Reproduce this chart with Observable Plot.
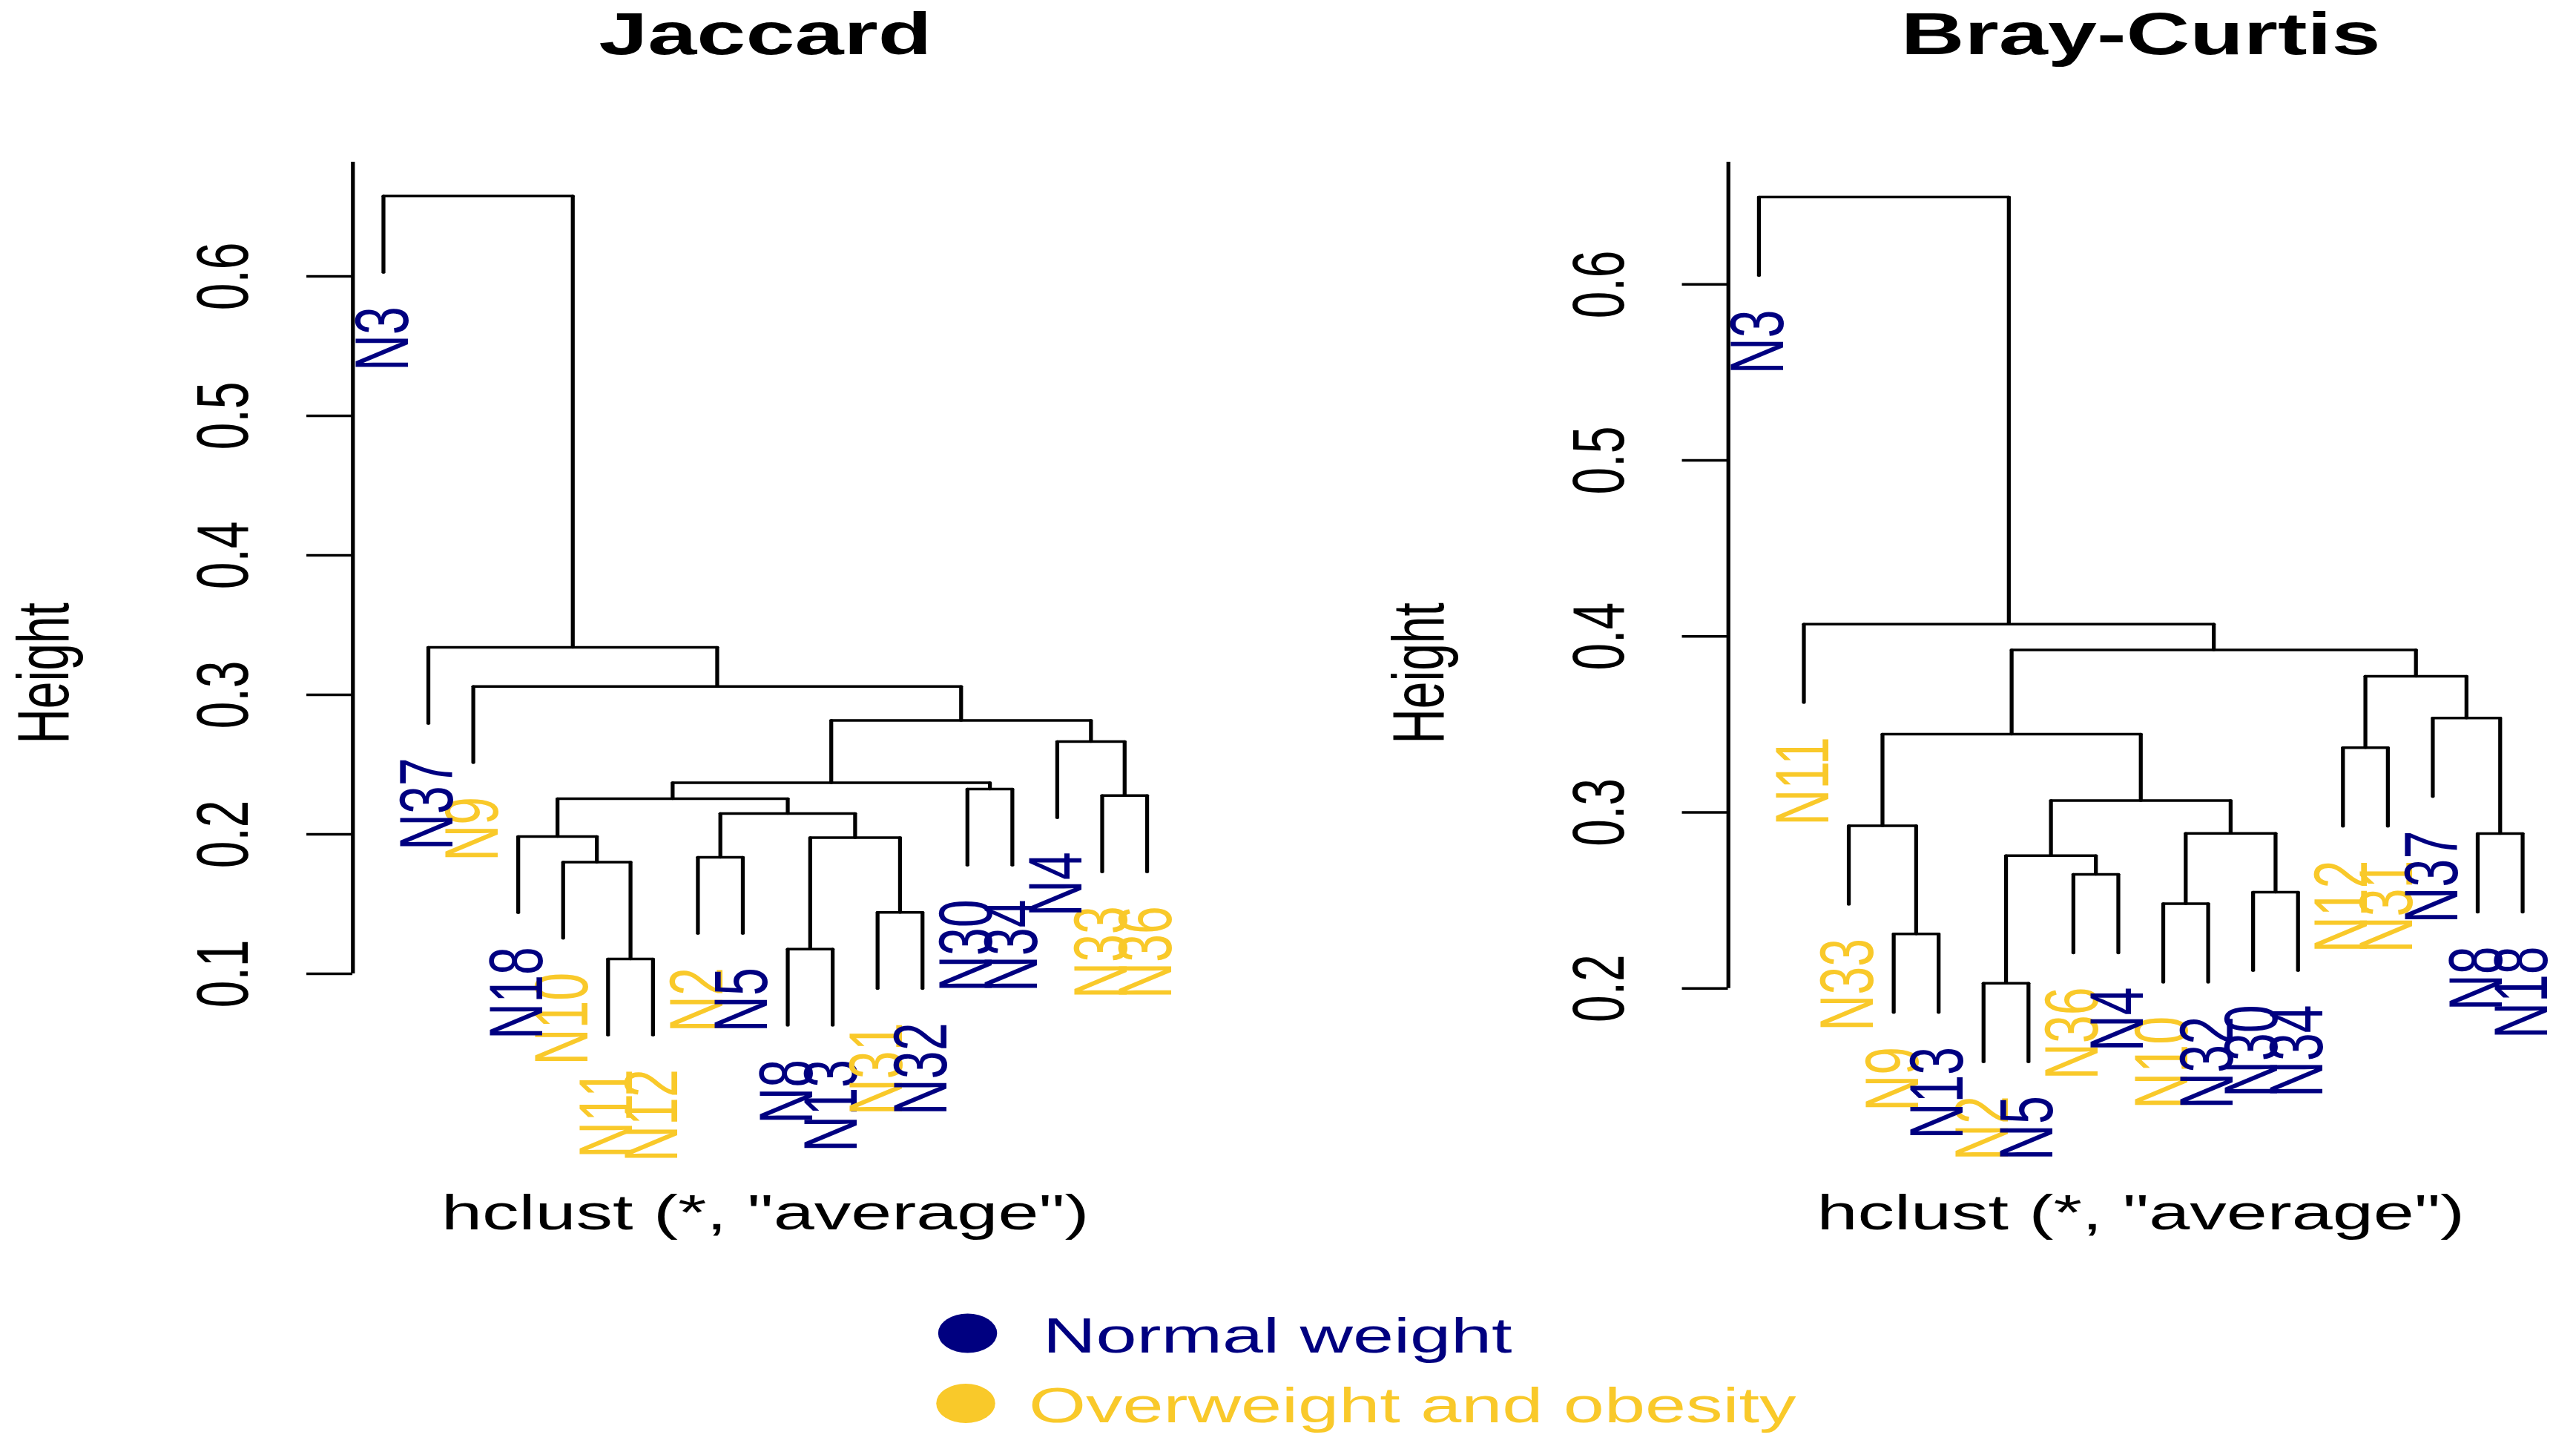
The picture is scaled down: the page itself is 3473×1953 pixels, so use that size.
<!DOCTYPE html>
<html>
<head>
<meta charset="utf-8">
<script src="https://cdn.jsdelivr.net/npm/d3@7"></script>
<script src="https://cdn.jsdelivr.net/npm/@observablehq/plot@0.6"></script>
<style>
  html, body { margin: 0; padding: 0; background: #ffffff; }
  #stage {
    position: relative; width: 2315.33px; height: 1953px;
    transform: scaleX(1.5); transform-origin: 0 0;
    font-family: "Liberation Sans", Arial, Helvetica, sans-serif;
    overflow: visible;
  }
  #stage > svg { position: absolute; top: 0; }
</style>
</head>
<body>
<div id="stage"></div>
<script>
// ---------------- data ----------------
const groupNames = ["Normal weight", "Overweight and obesity"];
const groupColors = ["#000080", "#F9C92A"];
const normalWeight = ["N3", "N4", "N5", "N8", "N13", "N18", "N30", "N32", "N34", "N37"];
const overweight = ["N2", "N9", "N10", "N11", "N12", "N31", "N33", "N36"];

const panelTitles = ["Jaccard", "Bray-Curtis"];
const subTitle = 'hclust (*, "average")';
const yLabel = "Height";

// leaf order (left to right) and merges [child a, child b, height];
// a child is a sample name or the 1-based number of an earlier merge
const jaccardLeaves = ["N3", "N37", "N9", "N18", "N10", "N11", "N12", "N2", "N5",
                       "N8", "N13", "N31", "N32", "N30", "N34", "N4", "N33", "N36"];
const jaccardMerges = [
  ["N11", "N12", 0.1106],  // 1
  ["N8", "N13", 0.1177],   // 2
  ["N31", "N32", 0.144],   // 3
  ["N10", 1, 0.180],       // 4
  ["N2", "N5", 0.1835],    // 5
  [2, 3, 0.1975],          // 6
  ["N18", 4, 0.1984],      // 7
  [5, 6, 0.2149],          // 8
  [7, 8, 0.2255],          // 9
  ["N33", "N36", 0.2277],  // 10
  ["N30", "N34", 0.2324],  // 11
  [9, 11, 0.2369],         // 12
  ["N4", 10, 0.2665],      // 13
  [12, 13, 0.2816],        // 14
  ["N9", 14, 0.306],       // 15
  ["N37", 15, 0.334],      // 16
  ["N3", 16, 0.6575]       // 17
];
const jaccardTicks = [0.1, 0.2, 0.3, 0.4, 0.5, 0.6];

const brayLeaves = ["N3", "N11", "N33", "N9", "N13", "N2", "N5", "N36", "N4",
                    "N10", "N32", "N30", "N34", "N12", "N31", "N37", "N8", "N18"];
const brayMerges = [
  ["N2", "N5", 0.2029],    // 1
  ["N9", "N13", 0.2309],   // 2
  ["N10", "N32", 0.2481],  // 3
  ["N30", "N34", 0.2547],  // 4
  ["N36", "N4", 0.2648],   // 5
  [1, 5, 0.2754],          // 6
  ["N8", "N18", 0.288],    // 7
  [3, 4, 0.2881],          // 8
  ["N33", 2, 0.2924],      // 9
  [6, 8, 0.3067],          // 10
  ["N12", "N31", 0.3368],  // 11
  [9, 10, 0.3444],         // 12
  ["N37", 7, 0.3536],      // 13
  [11, 13, 0.3773],        // 14
  [12, 14, 0.3923],        // 15
  ["N11", 15, 0.407],      // 16
  ["N3", 16, 0.6497]       // 17
];
const brayTicks = [0.2, 0.3, 0.4, 0.5, 0.6];

// ---------------- helpers ----------------
const groupOf = name => normalWeight.includes(name) ? groupNames[0] : groupNames[1];

function dendrogram(leaves, merges) {
  const xOf = new Map(leaves.map((d, i) => [d, i + 1]));
  const hs = merges.map(m => m[2]);
  const hang = 0.1 * (d3.max(hs) - d3.min(hs));   // R plot.hclust default hang = 0.1
  const nodeX = [], segs = [], labels = [];
  merges.forEach(([a, b, h], i) => {
    const kids = [a, b].map(c => typeof c === "number"
      ? {x: nodeX[c - 1], y: merges[c - 1][2]}
      : {x: xOf.get(c), y: h - hang, leaf: c});
    nodeX[i] = (kids[0].x + kids[1].x) / 2;
    segs.push({x1: kids[0].x, x2: kids[1].x, y1: h, y2: h});
    for (const k of kids) {
      segs.push({x1: k.x, x2: k.x, y1: h, y2: k.y});
      if (k.leaf) labels.push({name: k.leaf, x: k.x, y: k.y, group: groupOf(k.leaf)});
    }
  });
  return {segs, labels, n: leaves.length};
}

const FS = 66, LW = 3.5;

function panel({title, leaves, merges, ticks, yDomain, marginLeft, marginRight}) {
  const {segs, labels, n} = dendrogram(leaves, merges);
  const xDomain = [1 - 0.04 * (n - 1), n + 0.04 * (n - 1)];
  return Plot.plot({
    width: 1157.67, height: 1953,
    marginLeft, marginRight, marginTop: 218, marginBottom: 373,
    style: {fontFamily: '"Liberation Sans", Arial, sans-serif', background: "transparent",
            maxWidth: "none", overflow: "visible", fontSize: FS + "px"},
    x: {domain: xDomain, axis: null},
    y: {domain: yDomain, axis: null},
    color: {domain: groupNames, range: groupColors},
    marks: [
      Plot.link(segs, {x1: "x1", y1: "y1", x2: "x2", y2: "y2",
                       stroke: "black", strokeWidth: LW, strokeLinecap: "round"}),
      Plot.text(labels, {x: "x", y: "y", text: "name", fill: "group", rotate: -90,
                         textAnchor: "end", lineAnchor: "middle", dy: 46, fontSize: 68}),
      Plot.ruleX([xDomain[0]], {x: d => d, y1: ticks[0], y2: yDomain[1],
                                 stroke: "black", strokeWidth: LW}),
      Plot.axisY(ticks, {anchor: "left", tickSize: 41.3, tickPadding: 74.2, tickRotate: -90,
                         textAnchor: "middle", lineAnchor: "middle",
                         tickFormat: d => d.toFixed(1), fontSize: FS, strokeWidth: LW,
                         label: null, fill: "black", color: "black"}),
      Plot.text([yLabel], {text: d => d, frameAnchor: "left", rotate: -90,
                           textAnchor: "middle", lineAnchor: "middle",
                           dx: -277, dy: 8, fontSize: FS, fill: "black"}),
      Plot.text([title], {text: d => d, frameAnchor: "top", lineAnchor: "middle", dy: -170.5,
                          fontSize: FS * 1.2, fontWeight: "bold", fill: "black"}),
      Plot.text([subTitle], {text: d => d, frameAnchor: "bottom", lineAnchor: "middle", dy: 55.5,
                             fontSize: FS, fill: "black"})
    ]
  });
}

const stage = document.getElementById("stage");

const left = panel({title: panelTitles[0], leaves: jaccardLeaves, merges: jaccardMerges,
  ticks: jaccardTicks, yDomain: [-0.0426, 0.6819], marginLeft: 316.7, marginRight: 99.67});
left.style.left = "0px";
stage.appendChild(left);

const right = panel({title: panelTitles[1], leaves: brayLeaves, merges: brayMerges,
  ticks: brayTicks, yDomain: [0.0953, 0.6695], marginLeft: 395, marginRight: 21.33});
right.style.left = "1157.67px";
stage.appendChild(right);

// ---------------- legend ----------------
const legend = d3.create("svg")
  .attr("width", 900).attr("height", 213)
  .style("position", "absolute").style("left", "800px").style("top", "1740px")
  .style("overflow", "visible");
const legendRows = [
  {cx: 69.7, cy: 57, tx: 137.3, ty: 83},
  {cx: 68, cy: 151.5, tx: 124.7, ty: 177}
];
groupNames.forEach((g, i) => {
  const r = legendRows[i];
  legend.append("circle").attr("cx", r.cx).attr("cy", r.cy).attr("r", 26.5)
    .attr("fill", groupColors[i]);
  legend.append("text").attr("x", r.tx).attr("y", r.ty).text(g)
    .attr("fill", groupColors[i]).attr("font-size", FS)
    .attr("font-family", '"Liberation Sans", Arial, sans-serif');
});
stage.appendChild(legend.node());
</script>
</body>
</html>
